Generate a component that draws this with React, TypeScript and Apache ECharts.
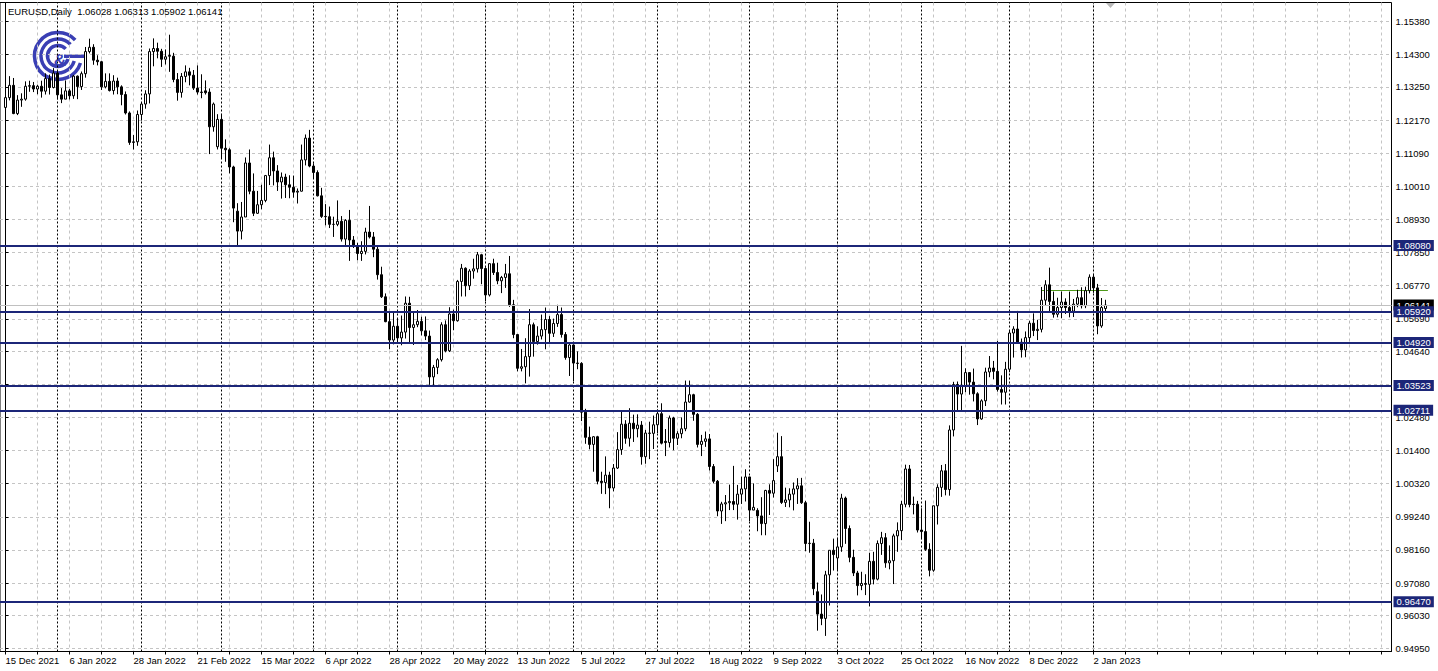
import React, { useEffect, useRef } from "react";
import * as echarts from "echarts";

// Daily bars, one array per month: [open, high, low, close]
const dec2021 = [
  [1.1258, 1.1299, 1.1222, 1.129], [1.129, 1.136, 1.1281, 1.133], [1.133, 1.1354, 1.1236, 1.1238],
  [1.1238, 1.1298, 1.1233, 1.1282], [1.1282, 1.1304, 1.126, 1.1285], [1.1285, 1.1343, 1.128, 1.1327],
  [1.1327, 1.1345, 1.1309, 1.1329], [1.1329, 1.1341, 1.1308, 1.1318], [1.1318, 1.1332, 1.1301, 1.1327],
  [1.1327, 1.1345, 1.129, 1.1311], [1.1311, 1.1369, 1.13, 1.1352], [1.1352, 1.1365, 1.13, 1.1323],
  [1.1323, 1.1386, 1.132, 1.137],
];
const jan2022 = [
  [1.137, 1.1376, 1.1284, 1.1299], [1.1299, 1.1321, 1.1272, 1.1285], [1.1285, 1.1346, 1.1285, 1.1312],
  [1.1312, 1.1318, 1.1284, 1.1296], [1.1296, 1.1364, 1.1286, 1.136], [1.136, 1.1362, 1.1285, 1.1326],
  [1.1326, 1.1375, 1.1315, 1.1368], [1.1368, 1.1455, 1.1355, 1.144], [1.144, 1.1482, 1.1434, 1.1454],
  [1.1454, 1.1464, 1.1397, 1.1412], [1.1412, 1.1428, 1.1395, 1.1407], [1.1407, 1.141, 1.1315, 1.1325],
  [1.1325, 1.1369, 1.132, 1.1343], [1.1343, 1.1369, 1.131, 1.1313], [1.1313, 1.1363, 1.13, 1.1344],
  [1.1344, 1.1355, 1.1301, 1.1325], [1.1325, 1.133, 1.1265, 1.13], [1.13, 1.131, 1.1235, 1.124],
  [1.124, 1.1245, 1.1136, 1.1144], [1.1144, 1.1168, 1.1121, 1.1146], [1.1146, 1.1248, 1.1133, 1.1235],
];
const feb2022 = [
  [1.1235, 1.1273, 1.1215, 1.1269], [1.1269, 1.1314, 1.1254, 1.1302], [1.1302, 1.145, 1.1271, 1.144],
  [1.144, 1.1483, 1.1392, 1.145], [1.145, 1.1469, 1.1418, 1.1441], [1.1441, 1.1449, 1.139, 1.1415],
  [1.1415, 1.1447, 1.1398, 1.1423], [1.1427, 1.1495, 1.1374, 1.1425], [1.1425, 1.1436, 1.134, 1.1349],
  [1.1349, 1.137, 1.128, 1.1307], [1.1307, 1.137, 1.129, 1.1359], [1.1359, 1.1395, 1.134, 1.1374],
  [1.1374, 1.1387, 1.133, 1.1363], [1.1363, 1.138, 1.1315, 1.1321], [1.1321, 1.1395, 1.13, 1.1308],
  [1.1308, 1.1366, 1.1288, 1.1307], [1.1312, 1.1346, 1.13, 1.1306], [1.1308, 1.132, 1.1106, 1.1195],
  [1.1195, 1.1274, 1.1179, 1.1269], [1.113, 1.1236, 1.1121, 1.1219],
];
const mar2022 = [
  [1.1219, 1.1237, 1.109, 1.1125], [1.1125, 1.1154, 1.1081, 1.112], [1.112, 1.1125, 1.1043, 1.1064],
  [1.1064, 1.1068, 1.0884, 1.093], [1.092, 1.0946, 1.0806, 1.0855], [1.0855, 1.095, 1.0828, 1.0901],
  [1.0901, 1.1095, 1.0901, 1.1077], [1.1077, 1.1121, 1.0975, 1.0985], [1.0985, 1.1043, 1.0904, 1.0913],
  [1.0913, 1.0986, 1.0911, 1.0941], [1.0941, 1.1006, 1.0926, 1.0955], [1.0955, 1.1038, 1.0949, 1.1036],
  [1.1036, 1.1137, 1.1005, 1.1094], [1.1094, 1.1114, 1.1004, 1.1051], [1.1051, 1.107, 1.0986, 1.1015],
  [1.1015, 1.1046, 1.0961, 1.1031], [1.1031, 1.1042, 1.0963, 1.1006], [1.1006, 1.1037, 1.0962, 1.0998],
  [1.0998, 1.1036, 1.0964, 1.0982], [1.0982, 1.0994, 1.0945, 1.0985], [1.0985, 1.1137, 1.0984, 1.1087],
  [1.1087, 1.117, 1.1069, 1.1158], [1.1158, 1.1185, 1.1063, 1.1067],
];
const apr2022 = [
  [1.1067, 1.1076, 1.1027, 1.1046], [1.1046, 1.1053, 1.0968, 1.097], [1.097, 1.0996, 1.0898, 1.0903],
  [1.0903, 1.0943, 1.0874, 1.0902], [1.0902, 1.0935, 1.0865, 1.0877], [1.0877, 1.0902, 1.0836, 1.0877],
  [1.0877, 1.0955, 1.0871, 1.0887], [1.0887, 1.0904, 1.0821, 1.0829], [1.0829, 1.0894, 1.0806, 1.089],
  [1.089, 1.0924, 1.0758, 1.0826], [1.0826, 1.0839, 1.08, 1.0808], [1.0808, 1.0817, 1.076, 1.0782],
  [1.0782, 1.0822, 1.0758, 1.0789], [1.0789, 1.0866, 1.0779, 1.0852], [1.0852, 1.0937, 1.0831, 1.0836],
  [1.0836, 1.0852, 1.077, 1.0796], [1.0796, 1.0806, 1.0697, 1.0713], [1.0713, 1.0739, 1.0637, 1.0641],
  [1.0641, 1.0652, 1.0558, 1.056], [1.056, 1.0592, 1.047, 1.05], [1.05, 1.0594, 1.0486, 1.0545],
];
const may2022 = [
  [1.0545, 1.057, 1.0492, 1.0507], [1.0507, 1.058, 1.0483, 1.0526], [1.0526, 1.0642, 1.0505, 1.062],
  [1.062, 1.0641, 1.0493, 1.0541], [1.0541, 1.0593, 1.0484, 1.055], [1.055, 1.0598, 1.0542, 1.0561],
  [1.0561, 1.0576, 1.0515, 1.053], [1.053, 1.0577, 1.05, 1.0513], [1.0513, 1.0531, 1.0354, 1.038],
  [1.038, 1.0419, 1.035, 1.0411], [1.0411, 1.0441, 1.0389, 1.0436], [1.0436, 1.0558, 1.043, 1.055],
  [1.055, 1.0564, 1.046, 1.0465], [1.0465, 1.0607, 1.0461, 1.0585], [1.0585, 1.0599, 1.0532, 1.0563],
  [1.0563, 1.0696, 1.056, 1.0691], [1.0691, 1.0748, 1.0642, 1.0734], [1.0734, 1.0737, 1.0642, 1.0677],
  [1.0677, 1.0731, 1.0663, 1.0725], [1.0725, 1.0765, 1.07, 1.0732], [1.0732, 1.0787, 1.072, 1.0778],
  [1.0778, 1.0781, 1.0682, 1.0733],
];
const jun2022 = [
  [1.0733, 1.0737, 1.0627, 1.0647], [1.0647, 1.075, 1.0642, 1.0749], [1.0749, 1.0765, 1.0712, 1.072],
  [1.072, 1.0752, 1.0682, 1.0693], [1.0693, 1.0709, 1.0653, 1.0704], [1.0704, 1.0748, 1.067, 1.0716],
  [1.0716, 1.0774, 1.0608, 1.0615], [1.0615, 1.0631, 1.0506, 1.0518], [1.0518, 1.0518, 1.0398, 1.0408],
  [1.0408, 1.0471, 1.0398, 1.0413], [1.0413, 1.0506, 1.0359, 1.0446], [1.0446, 1.0601, 1.0381, 1.055],
  [1.055, 1.0557, 1.0446, 1.0495], [1.0495, 1.0545, 1.0485, 1.0513], [1.0513, 1.0583, 1.0502, 1.0534],
  [1.0534, 1.0606, 1.047, 1.0567], [1.0567, 1.0578, 1.0488, 1.0522], [1.0522, 1.057, 1.051, 1.0554],
  [1.0554, 1.0615, 1.0543, 1.0583], [1.0583, 1.0606, 1.0508, 1.0518], [1.0518, 1.0526, 1.0436, 1.0443],
  [1.0443, 1.0487, 1.0383, 1.0484],
];
const jul2022 = [
  [1.0484, 1.0486, 1.0366, 1.0425], [1.0425, 1.0463, 1.0405, 1.0424], [1.0424, 1.0428, 1.0236, 1.0265],
  [1.0265, 1.0276, 1.0162, 1.0183], [1.0183, 1.0218, 1.0144, 1.016], [1.016, 1.0187, 1.0071, 1.0185],
  [1.0185, 1.0188, 1.003, 1.004], [1.004, 1.0071, 0.9999, 1.0036], [1.0036, 1.0121, 0.9998, 1.006],
  [1.006, 1.0071, 0.9952, 1.0018], [1.0018, 1.0096, 1.0007, 1.0083], [1.0083, 1.02, 1.008, 1.0143],
  [1.0143, 1.0272, 1.0126, 1.0226], [1.0226, 1.0239, 1.0162, 1.018], [1.018, 1.0278, 1.0153, 1.0229],
  [1.0229, 1.0257, 1.0168, 1.0211], [1.0211, 1.0258, 1.0183, 1.0223], [1.0223, 1.0236, 1.0094, 1.012],
  [1.012, 1.0207, 1.0097, 1.0197], [1.0197, 1.0234, 1.0112, 1.0196], [1.0196, 1.0254, 1.0145, 1.0224],
];
const aug2022 = [
  [1.0224, 1.0274, 1.0197, 1.026], [1.026, 1.0294, 1.016, 1.0164], [1.017, 1.021, 1.0122, 1.0166],
  [1.0166, 1.0254, 1.015, 1.0246], [1.0246, 1.025, 1.0141, 1.018], [1.018, 1.0203, 1.0158, 1.0195],
  [1.0195, 1.0248, 1.018, 1.0211], [1.0211, 1.0368, 1.0203, 1.0298], [1.0298, 1.0368, 1.0296, 1.0322],
  [1.0322, 1.0325, 1.0237, 1.0258], [1.0258, 1.0262, 1.015, 1.016], [1.016, 1.0191, 1.0122, 1.017],
  [1.017, 1.0202, 1.0152, 1.0178], [1.0178, 1.0194, 1.0075, 1.0088], [1.0088, 1.0096, 1.0033, 1.004],
  [1.004, 1.0044, 0.9926, 0.9943], [0.9943, 0.9973, 0.9901, 0.9966], [0.9966, 0.9995, 0.991, 0.997],
  [0.997, 1.0029, 0.9946, 0.9974], [0.9974, 1.009, 0.9946, 0.9965], [0.9965, 1.0028, 0.9915, 0.9998],
  [0.9998, 1.0055, 0.9966, 1.0015], [1.0015, 1.0079, 0.9974, 1.0054],
];
const sep2022 = [
  [1.0054, 1.0055, 0.991, 0.9946], [0.9946, 1.0033, 0.9946, 0.9955], [0.9945, 0.9952, 0.9877, 0.9927],
  [0.9927, 0.9988, 0.9864, 0.9902], [0.9902, 1.0012, 0.9864, 1.001], [1.001, 1.003, 0.993, 1.0001],
  [1.0001, 1.0112, 0.9987, 1.0042], [1.009, 1.0198, 1.007, 1.012], [1.012, 1.0187, 0.9966, 0.9971],
  [0.9971, 1.0019, 0.9956, 0.9979], [0.9979, 1.0017, 0.9955, 0.9998], [0.9998, 1.0036, 0.9945, 1.0015],
  [1.0015, 1.005, 0.9966, 1.0025], [1.0025, 1.0051, 0.9966, 0.997], [0.997, 0.9976, 0.9812, 0.9837],
  [0.9837, 0.9908, 0.9807, 0.9838], [0.9838, 0.9852, 0.9669, 0.969], [0.968, 0.971, 0.9553, 0.9607],
  [0.9607, 0.9671, 0.9571, 0.9593], [0.9593, 0.9748, 0.9536, 0.9735], [0.9735, 0.9815, 0.9635, 0.9815],
  [0.9815, 0.9853, 0.9749, 0.9801],
];
const oct2022 = [
  [0.979, 0.9853, 0.9751, 0.9826], [0.9826, 0.9999, 0.981, 0.9985], [0.9985, 0.999, 0.9836, 0.9886],
  [0.9886, 0.9896, 0.9776, 0.9792], [0.9792, 0.9817, 0.9731, 0.9741], [0.9741, 0.9748, 0.9668, 0.97],
  [0.97, 0.9745, 0.9685, 0.9707], [0.9707, 0.9737, 0.9669, 0.9704], [0.9704, 0.9807, 0.9632, 0.9779],
  [0.9779, 0.981, 0.9704, 0.9721], [0.9721, 0.9847, 0.9717, 0.9837], [0.9837, 0.9875, 0.98, 0.9856],
  [0.9856, 0.9871, 0.9758, 0.9774], [0.9774, 0.9831, 0.9753, 0.9781], [0.9781, 0.9869, 0.9705, 0.9862],
  [0.9862, 0.9906, 0.981, 0.9879], [0.9879, 0.9976, 0.9848, 0.9965], [0.9965, 1.0094, 0.9955, 1.008],
  [1.008, 1.0093, 0.9955, 0.9964], [0.9964, 0.999, 0.9932, 0.9965], [0.9965, 0.9976, 0.9873, 0.9881],
];
const nov2022 = [
  [0.9881, 0.9952, 0.9851, 0.9876], [0.9876, 0.9977, 0.9813, 0.9818], [0.9818, 0.9838, 0.973, 0.975],
  [0.975, 0.996, 0.9745, 0.996], [0.996, 1.003, 0.9899, 1.002], [1.002, 1.0093, 0.9989, 1.0074],
  [1.0074, 1.0096, 0.9994, 1.0013], [1.0013, 1.0222, 0.9993, 1.0207], [1.0207, 1.0364, 1.0186, 1.0355],
  [1.0355, 1.0365, 1.027, 1.0324], [1.0324, 1.0481, 1.0272, 1.0351], [1.0351, 1.0408, 1.033, 1.0394],
  [1.0394, 1.0395, 1.0322, 1.0363], [1.0363, 1.0407, 1.03, 1.0325], [1.0325, 1.033, 1.0223, 1.0243],
  [1.0243, 1.0307, 1.024, 1.0302], [1.0302, 1.041, 1.0285, 1.0396], [1.0396, 1.0448, 1.0379, 1.0409],
  [1.0409, 1.0432, 1.0372, 1.0398], [1.0398, 1.0497, 1.0332, 1.0339], [1.0339, 1.0385, 1.029, 1.033],
  [1.033, 1.0429, 1.029, 1.0405],
];
const dec2022 = [
  [1.0405, 1.0533, 1.0395, 1.0523], [1.0523, 1.0545, 1.0443, 1.0536], [1.0536, 1.0595, 1.049, 1.0493],
  [1.0493, 1.0505, 1.0443, 1.0468], [1.0468, 1.0528, 1.0444, 1.0508], [1.0508, 1.0563, 1.0491, 1.0555],
  [1.0555, 1.0587, 1.0513, 1.0531], [1.0531, 1.0566, 1.05, 1.0535], [1.0535, 1.0673, 1.0525, 1.063],
  [1.063, 1.0695, 1.0613, 1.068], [1.068, 1.0736, 1.0593, 1.0626], [1.0626, 1.0658, 1.0573, 1.0584],
  [1.0584, 1.0638, 1.0574, 1.0606], [1.0606, 1.0658, 1.0571, 1.0624], [1.0624, 1.0636, 1.0585, 1.0606],
  [1.0606, 1.0658, 1.0574, 1.0594], [1.0594, 1.0634, 1.0575, 1.0617], [1.0617, 1.0664, 1.0607, 1.0638],
  [1.0638, 1.0672, 1.0603, 1.0612], [1.0612, 1.0674, 1.0604, 1.0661], [1.0661, 1.0714, 1.0652, 1.0705],
];
const jan2023 = [
  [1.0705, 1.0713, 1.0654, 1.067], [1.067, 1.0683, 1.0519, 1.0546], [1.0546, 1.0637, 1.054, 1.0606],
  [1.06028, 1.06313, 1.05902, 1.06141],
];

const months = [dec2021, jan2022, feb2022, mar2022, apr2022, may2022, jun2022, jul2022, aug2022, sep2022, oct2022, nov2022, dec2022, jan2023];

// Date tick labels and the bar they sit on
const dateLabels = [
  "15 Dec 2021", "6 Jan 2022", "28 Jan 2022", "21 Feb 2022", "15 Mar 2022", "6 Apr 2022",
  "28 Apr 2022", "20 May 2022", "13 Jun 2022", "5 Jul 2022", "27 Jul 2022", "18 Aug 2022",
  "9 Sep 2022", "3 Oct 2022", "25 Oct 2022", "16 Nov 2022", "8 Dec 2022", "2 Jan 2023",
];
const dateLabelBars = [0, 16, 32, 48, 64, 80, 96, 112, 128, 144, 160, 176, 192, 208, 224, 240, 256, 272];
const gridBars = [0, 8, 16, 24, 32, 40, 48, 56, 64, 72, 80, 88, 96, 104, 112, 120, 128, 136, 144, 152, 160, 168, 176, 184, 192, 200, 208, 216, 224, 232, 240, 248, 256, 264, 272, 280, 288, 296, 304, 312, 320, 328, 336, 344];

// Price axis labels
const priceTicks = [1.1538, 1.143, 1.1325, 1.1217, 1.1109, 1.1001, 1.0893, 1.0785, 1.0677, 1.0569, 1.0464, 1.0356, 1.0248, 1.014, 1.0032, 0.9924, 0.9816, 0.9708, 0.9603, 0.9495];

// Horizontal levels drawn on the chart
const levels = [1.0808, 1.0592, 1.0492, 1.03523, 1.02711, 0.9647];
const bidPrice = 1.06141;
const greenLevel = 1.0663;
const greenFromBar = 259;
const greenToBar = 275.6;

const headerSymbol = "EURUSD,Daily";
const headerValues = [1.06028, 1.06313, 1.05902, 1.06141];

const FONT = "'Liberation Sans', Arial, sans-serif";
const NAVY = "#1c2678";
const LOGO = "#3a3fb4";

export default function App() {
  const ref = useRef<HTMLDivElement>(null);
  useEffect(() => {
    const chart = echarts.init(ref.current!, null, { renderer: "svg" });
    const bars: number[][] = [];
    const monthStarts: number[] = [];
    months.forEach((m, k) => {
      if (k > 0) monthStarts.push(bars.length);
      m.forEach((b) => bars.push(b));
    });
    const candles = bars.map((b, i) => [i, b[0], b[3], b[2], b[1]]);
    const labelMap: Record<number, string> = {};
    dateLabelBars.forEach((b, i) => (labelMap[b] = dateLabels[i]));

    const option: any = {
      animation: false,
      backgroundColor: "#ffffff",
      grid: {
        left: 0, right: 46.5, top: 2.5, bottom: 19.5,
        show: true, borderColor: "#000", borderWidth: 1, backgroundColor: "transparent",
      },
      xAxis: {
        type: "value", min: -1.375, max: 346.5,
        axisLine: { show: true, lineStyle: { color: "#000", width: 1 } },
        axisTick: { show: true, customValues: gridBars, length: 3, lineStyle: { color: "#000" } },
        axisLabel: {
          customValues: dateLabelBars,
          formatter: (v: number) => labelMap[Math.round(v)] || "",
          align: "left", color: "#000", fontSize: 9.5, fontFamily: FONT, margin: 4,
        },
        splitLine: { show: true, lineStyle: { color: "#c4c4c4", type: [3, 3], width: 1 } },
      },
      yAxis: {
        type: "value", position: "right", min: 0.948521, max: 1.159991, scale: true,
        axisLine: { show: true, lineStyle: { color: "#000" } },
        axisTick: { show: true, customValues: priceTicks, length: 3, inside: false, lineStyle: { color: "#000" } },
        axisLabel: {
          customValues: priceTicks,
          formatter: (v: number) => v.toFixed(5),
          color: "#000", fontSize: 9.5, fontFamily: FONT, margin: 4,
        },
        splitLine: { show: true, lineStyle: { color: "#c4c4c4", type: [3, 3], width: 1 } },
      },
      series: [
        {
          type: "line", data: [], silent: true,
          markLine: {
            z: 1, silent: true, symbol: ["none", "none"], animation: false, precision: 6,
            label: { show: false },
            data: [
              ...monthStarts.map((b) => ({ xAxis: b, lineStyle: { color: "#000", type: [2, 2], width: 1 } })),
              [
                { coord: [greenFromBar, greenLevel], lineStyle: { color: "#4f9a1c", type: "solid", width: 1 } },
                { coord: [greenToBar, greenLevel] },
              ],
            ],
          },
        },
        {
          type: "candlestick", data: candles, barWidth: 2,
          itemStyle: { color: "#ffffff", color0: "#000000", borderColor: "#000000", borderColor0: "#000000", borderWidth: 1 },
          markLine: {
            silent: true, symbol: ["none", "none"], animation: false, precision: 6,
            data: [
              {
                yAxis: bidPrice,
                lineStyle: { color: "#c0c0c0", width: 1, type: "solid" },
                label: {
                  show: true, position: "end", distance: 2, formatter: bidPrice.toFixed(5),
                  color: "#fff", backgroundColor: "#000", padding: [1, 3, 0, 3], fontSize: 9.5, fontFamily: FONT,
                },
              },
              ...levels.map((v) => ({
                yAxis: v,
                lineStyle: { color: NAVY, width: 2, type: "solid" },
                label: {
                  show: true, position: "end", distance: 2, formatter: v.toFixed(5),
                  color: "#fff", backgroundColor: NAVY, padding: [1, 3, 0, 3], fontSize: 9.5, fontFamily: FONT,
                },
              })),
            ],
          },
        },
      ],
      graphic: [
        {
          type: "text", x: 8, y: 6, z: 10,
          style: {
            text: headerSymbol + "  " + headerValues.map((v) => v.toFixed(5)).join(" "),
            fontSize: 9.5, fontFamily: FONT, fill: "#000",
          },
        },
        {
          type: "group", z: 10,
          children: [
            { type: "arc", shape: { cx: 58, cy: 56, r: 23.5, startAngle: -0.75, endAngle: 0.3, clockwise: false }, style: { stroke: LOGO, lineWidth: 3.5, fill: "none" } },
            { type: "arc", shape: { cx: 58, cy: 56, r: 17, startAngle: -0.75, endAngle: 0.3, clockwise: false }, style: { stroke: LOGO, lineWidth: 3.5, fill: "none" } },
            { type: "arc", shape: { cx: 58, cy: 56, r: 10.5, startAngle: -0.75, endAngle: 0.3, clockwise: false }, style: { stroke: LOGO, lineWidth: 3.5, fill: "none" } },
            { type: "rect", shape: { x: 64, y: 54.5, width: 20, height: 3.5 }, style: { fill: LOGO } },
            { type: "text", style: { text: "&", x: 60, y: 60, fontSize: 17, fontWeight: "bold", fontFamily: FONT, fill: LOGO, align: "center", verticalAlign: "middle" } },
          ],
        },
        { type: "polygon", shape: { points: [[1106, 3], [1115, 3], [1110.5, 8]] }, style: { fill: "#b8b8b8" }, z: 10 },
      ],
    };
    chart.setOption(option);
    return () => chart.dispose();
  }, []);
  return <div ref={ref} style={{ position: "absolute", left: 0, top: 0, width: 1438, height: 671 }} />;
}
